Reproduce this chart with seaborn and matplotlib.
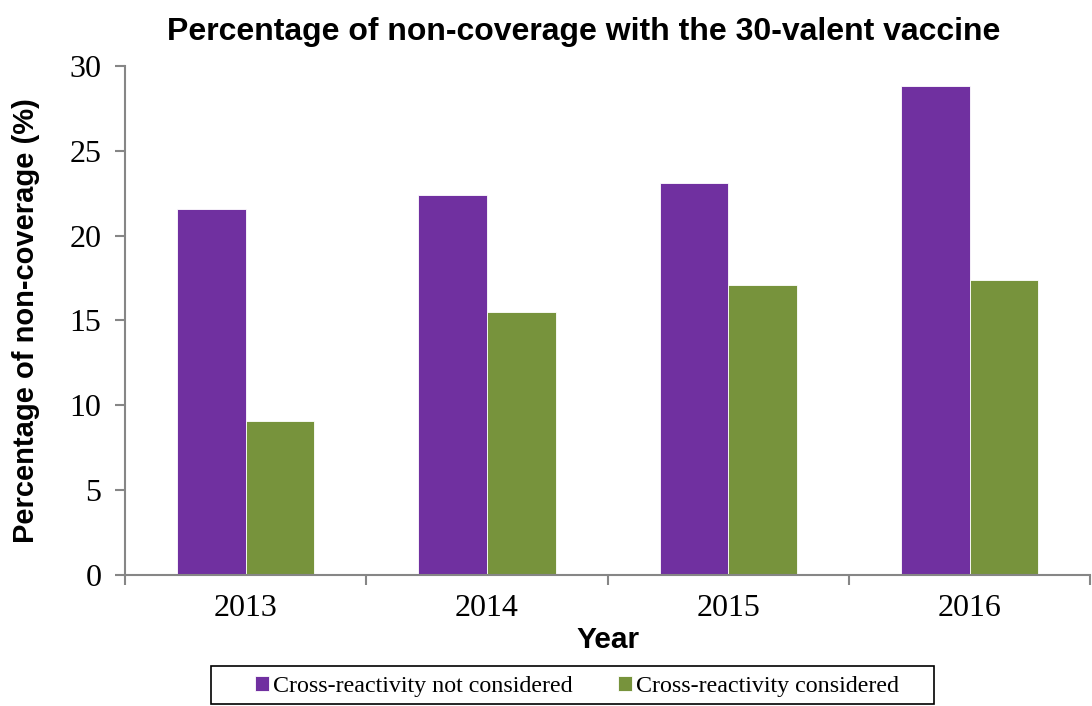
import pandas as pd
import matplotlib.pyplot as plt
import seaborn as sns
from matplotlib.ticker import FixedLocator
from matplotlib.patches import Rectangle

years = ["2013", "2014", "2015", "2016"]
not_considered = [21.6, 22.4, 23.1, 28.8]
considered = [9.1, 15.5, 17.1, 17.4]
series_names = ["Cross-reactivity not considered", "Cross-reactivity considered"]
colors = ["#7030A0", "#77933C"]

df = pd.DataFrame({
    "Year": years * 2,
    "value": not_considered + considered,
    "series": [series_names[0]] * 4 + [series_names[1]] * 4,
})

sns.set_style("white")
plt.rcParams["text.color"] = "black"
fig = plt.figure(figsize=(10.92, 7.06), dpi=100)
ax = fig.add_axes([0.1145, 0.1856, 0.884, 0.7209])

sns.barplot(data=df, x="Year", y="value", hue="series", palette=colors,
            width=0.57, ax=ax, edgecolor="white", linewidth=0.6, saturation=1)

ax.set_xlim(-0.5, 3.5)
ax.set_ylim(0, 30)
ax.set_yticks([0, 5, 10, 15, 20, 25, 30])

serif = ["Liberation Serif", "DejaVu Serif"]
for lab in ax.get_xticklabels() + ax.get_yticklabels():
    lab.set_family(serif)
    lab.set_fontsize(23)
    lab.set_color("black")

ax.tick_params(axis="x", which="major", length=0, pad=14)
ax.xaxis.set_minor_locator(FixedLocator([-0.5, 0.5, 1.5, 2.5, 3.5]))
ax.tick_params(axis="x", which="minor", length=7, width=1.5, color="#868686", direction="out", bottom=True)
ax.tick_params(axis="y", length=7, width=1.5, color="#868686", direction="out", left=True, pad=10)

for s in ["top", "right"]:
    ax.spines[s].set_visible(False)
for s in ["left", "bottom"]:
    ax.spines[s].set_color("#868686")
    ax.spines[s].set_linewidth(1.5)

ax.set_title("Percentage of non-coverage with the 30-valent vaccine",
             fontsize=23, fontweight="bold", family="Liberation Sans", pad=19,
             x=0.475, color="black")
ax.set_xlabel("Year", fontsize=21.5, fontweight="bold", family="Liberation Sans",
              labelpad=2, color="black")
ax.set_ylabel("Percentage of non-coverage (%)", fontsize=21, fontweight="bold",
              family="Liberation Sans", labelpad=21, color="black")

# legend without frame, box drawn separately (wide side padding like the original)
ax.legend_.remove()
handles, labels = ax.get_legend_handles_labels()
fig.legend(handles, labels, loc="center", bbox_to_anchor=(0.5284, 0.0283), ncol=2,
           frameon=False, borderaxespad=0, borderpad=0,
           prop={"family": serif, "size": 17.3}, handlelength=0.58, handleheight=0.58,
           handletextpad=0.15, columnspacing=1.9)
fig.patches.append(Rectangle((211 / 1092, 2 / 706), 723 / 1092, 38 / 706,
                             transform=fig.transFigure, fill=False,
                             edgecolor="black", linewidth=1.2))

fig.savefig("out.png", dpi=100)
